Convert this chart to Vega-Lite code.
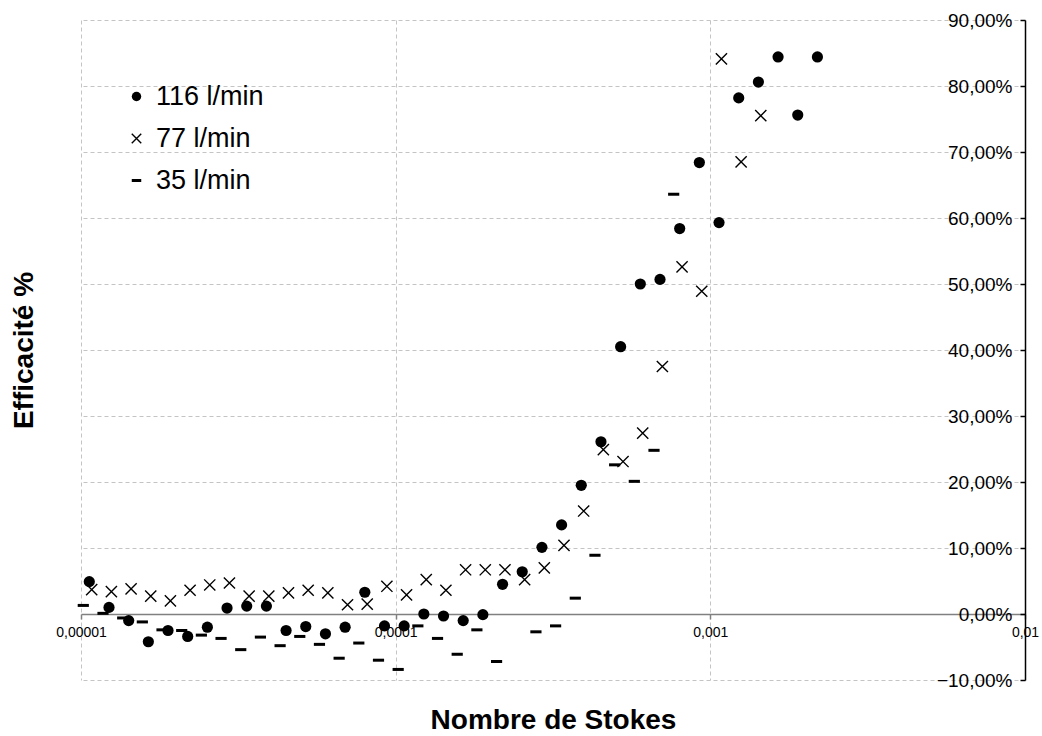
{
  "$schema": "https://vega.github.io/schema/vega-lite/v6.json",
  "width": 944,
  "height": 660,
  "autosize": {"type": "none"},
  "padding": {"left": 81, "top": 20, "right": 17, "bottom": 56},
  "background": "white",
  "config": {"view": {"stroke": null}, "font": "Liberation Sans"},
  "data": {"values": [
    {"series": "116 l/min", "stokes": 0.000010625, "eff": 4.9},
    {"series": "116 l/min", "stokes": 0.000012273, "eff": 1.0},
    {"series": "116 l/min", "stokes": 0.000014177, "eff": -1.0},
    {"series": "116 l/min", "stokes": 0.000016368, "eff": -4.2},
    {"series": "116 l/min", "stokes": 0.000018902, "eff": -2.5},
    {"series": "116 l/min", "stokes": 0.00002183, "eff": -3.4},
    {"series": "116 l/min", "stokes": 0.000025211, "eff": -2.0},
    {"series": "116 l/min", "stokes": 0.000029115, "eff": 0.9},
    {"series": "116 l/min", "stokes": 0.000033627, "eff": 1.2},
    {"series": "116 l/min", "stokes": 0.000038835, "eff": 1.2},
    {"series": "116 l/min", "stokes": 0.000044851, "eff": -2.5},
    {"series": "116 l/min", "stokes": 0.000051798, "eff": -1.9},
    {"series": "116 l/min", "stokes": 0.000059819, "eff": -3.0},
    {"series": "116 l/min", "stokes": 0.000069085, "eff": -2.0},
    {"series": "116 l/min", "stokes": 0.000079785, "eff": 3.3},
    {"series": "116 l/min", "stokes": 0.000092143, "eff": -1.8},
    {"series": "116 l/min", "stokes": 0.00010641, "eff": -1.8},
    {"series": "116 l/min", "stokes": 0.0001229, "eff": 0.0},
    {"series": "116 l/min", "stokes": 0.00014193, "eff": -0.3},
    {"series": "116 l/min", "stokes": 0.00016391, "eff": -1.0},
    {"series": "116 l/min", "stokes": 0.0001893, "eff": -0.1},
    {"series": "116 l/min", "stokes": 0.00021862, "eff": 4.5},
    {"series": "116 l/min", "stokes": 0.00025249, "eff": 6.4},
    {"series": "116 l/min", "stokes": 0.0002916, "eff": 10.1},
    {"series": "116 l/min", "stokes": 0.00033676, "eff": 13.5},
    {"series": "116 l/min", "stokes": 0.00038892, "eff": 19.5},
    {"series": "116 l/min", "stokes": 0.00044916, "eff": 26.1},
    {"series": "116 l/min", "stokes": 0.00051873, "eff": 40.5},
    {"series": "116 l/min", "stokes": 0.00059908, "eff": 50.0},
    {"series": "116 l/min", "stokes": 0.00069186, "eff": 50.7},
    {"series": "116 l/min", "stokes": 0.00079903, "eff": 58.4},
    {"series": "116 l/min", "stokes": 0.00092279, "eff": 68.4},
    {"series": "116 l/min", "stokes": 0.0010657, "eff": 59.3},
    {"series": "116 l/min", "stokes": 0.0012308, "eff": 78.2},
    {"series": "116 l/min", "stokes": 0.0014214, "eff": 80.6},
    {"series": "116 l/min", "stokes": 0.0016416, "eff": 84.4},
    {"series": "116 l/min", "stokes": 0.0018959, "eff": 75.6},
    {"series": "116 l/min", "stokes": 0.0021895, "eff": 84.4},
    {"series": "77 l/min", "stokes": 0.000010813, "eff": 3.7},
    {"series": "77 l/min", "stokes": 0.00001249, "eff": 3.4},
    {"series": "77 l/min", "stokes": 0.000014428, "eff": 3.8},
    {"series": "77 l/min", "stokes": 0.000016658, "eff": 2.7},
    {"series": "77 l/min", "stokes": 0.000019237, "eff": 2.0},
    {"series": "77 l/min", "stokes": 0.000022216, "eff": 3.6},
    {"series": "77 l/min", "stokes": 0.000025657, "eff": 4.4},
    {"series": "77 l/min", "stokes": 0.00002963, "eff": 4.7},
    {"series": "77 l/min", "stokes": 0.000034222, "eff": 2.7},
    {"series": "77 l/min", "stokes": 0.000039522, "eff": 2.7},
    {"series": "77 l/min", "stokes": 0.000045645, "eff": 3.2},
    {"series": "77 l/min", "stokes": 0.000052715, "eff": 3.6},
    {"series": "77 l/min", "stokes": 0.000060878, "eff": 3.2},
    {"series": "77 l/min", "stokes": 0.000070308, "eff": 1.4},
    {"series": "77 l/min", "stokes": 0.000081197, "eff": 1.5},
    {"series": "77 l/min", "stokes": 0.000093774, "eff": 4.2},
    {"series": "77 l/min", "stokes": 0.00010829, "eff": 2.9},
    {"series": "77 l/min", "stokes": 0.00012508, "eff": 5.2},
    {"series": "77 l/min", "stokes": 0.00014444, "eff": 3.6},
    {"series": "77 l/min", "stokes": 0.00016681, "eff": 6.7},
    {"series": "77 l/min", "stokes": 0.00019265, "eff": 6.7},
    {"series": "77 l/min", "stokes": 0.00022249, "eff": 6.7},
    {"series": "77 l/min", "stokes": 0.00025696, "eff": 5.2},
    {"series": "77 l/min", "stokes": 0.00029676, "eff": 7.0},
    {"series": "77 l/min", "stokes": 0.00034272, "eff": 10.4},
    {"series": "77 l/min", "stokes": 0.0003958, "eff": 15.6},
    {"series": "77 l/min", "stokes": 0.00045711, "eff": 24.9},
    {"series": "77 l/min", "stokes": 0.00052791, "eff": 23.1},
    {"series": "77 l/min", "stokes": 0.00060969, "eff": 27.4},
    {"series": "77 l/min", "stokes": 0.00070411, "eff": 37.5},
    {"series": "77 l/min", "stokes": 0.00081317, "eff": 52.6},
    {"series": "77 l/min", "stokes": 0.00093912, "eff": 48.9},
    {"series": "77 l/min", "stokes": 0.0010846, "eff": 84.1},
    {"series": "77 l/min", "stokes": 0.0012526, "eff": 68.5},
    {"series": "77 l/min", "stokes": 0.0014465, "eff": 75.5},
    {"series": "35 l/min", "stokes": 0.000010169, "eff": 1.3},
    {"series": "35 l/min", "stokes": 0.000011747, "eff": 0.1},
    {"series": "35 l/min", "stokes": 0.000013569, "eff": -0.6},
    {"series": "35 l/min", "stokes": 0.000015666, "eff": -1.2},
    {"series": "35 l/min", "stokes": 0.000018091, "eff": -2.4},
    {"series": "35 l/min", "stokes": 0.000020894, "eff": -2.5},
    {"series": "35 l/min", "stokes": 0.00002413, "eff": -3.2},
    {"series": "35 l/min", "stokes": 0.000027866, "eff": -3.7},
    {"series": "35 l/min", "stokes": 0.000032185, "eff": -5.4},
    {"series": "35 l/min", "stokes": 0.000037169, "eff": -3.5},
    {"series": "35 l/min", "stokes": 0.000042927, "eff": -4.8},
    {"series": "35 l/min", "stokes": 0.000049576, "eff": -3.4},
    {"series": "35 l/min", "stokes": 0.000057253, "eff": -4.6},
    {"series": "35 l/min", "stokes": 0.000066121, "eff": -6.7},
    {"series": "35 l/min", "stokes": 0.000076362, "eff": -4.4},
    {"series": "35 l/min", "stokes": 0.00008819, "eff": -7.0},
    {"series": "35 l/min", "stokes": 0.00010185, "eff": -8.4},
    {"series": "35 l/min", "stokes": 0.00011763, "eff": -1.8},
    {"series": "35 l/min", "stokes": 0.00013584, "eff": -3.7},
    {"series": "35 l/min", "stokes": 0.00015688, "eff": -6.1},
    {"series": "35 l/min", "stokes": 0.00018118, "eff": -2.4},
    {"series": "35 l/min", "stokes": 0.00020924, "eff": -7.2},
    {"series": "35 l/min", "stokes": 0.00027909, "eff": -2.7},
    {"series": "35 l/min", "stokes": 0.00032231, "eff": -1.8},
    {"series": "35 l/min", "stokes": 0.00037224, "eff": 2.4},
    {"series": "35 l/min", "stokes": 0.00042989, "eff": 8.9},
    {"series": "35 l/min", "stokes": 0.00049648, "eff": 22.6},
    {"series": "35 l/min", "stokes": 0.00057337, "eff": 20.1},
    {"series": "35 l/min", "stokes": 0.00066218, "eff": 24.8},
    {"series": "35 l/min", "stokes": 0.00076475, "eff": 63.6}
  ]},
  "mark": {"type": "point", "stroke": "black", "opacity": 1, "size": 125},
  "encoding": {
    "x": {
      "field": "stokes", "type": "quantitative",
      "scale": {"type": "log", "domain": [0.00001, 0.01], "nice": false},
      "axis": {
        "title": "Nombre de Stokes",
        "values": [0.00001, 0.0001, 0.001, 0.01],
        "labelExpr": "replace(datum.value + '', '.', ',')",
        "labelFlush": false, "labelOverlap": false,
        "offset": -66,
        "grid": true, "gridDash": [4, 3], "gridColor": "#c4c4c4", "gridWidth": 1,
        "domainColor": "#808080", "domainWidth": 1.5,
        "tickColor": "#808080", "tickSize": 5, "tickWidth": 1.5,
        "labelFontSize": 14, "labelColor": "black", "labelPadding": 6,
        "titleFontSize": 28, "titleFontWeight": "bold", "titleColor": "black",
        "titleY": 106, "titleBaseline": "middle"
      }
    },
    "y": {
      "field": "eff", "type": "quantitative",
      "scale": {"domain": [-10, 90], "nice": false, "zero": false},
      "axis": {
        "orient": "right",
        "title": "Efficacité %",
        "values": [-10, 0, 10, 20, 30, 40, 50, 60, 70, 80, 90],
        "labelExpr": "replace(format(datum.value, '.2f'), '.', ',') + '%'",
        "labelFlush": false, "labelOverlap": false,
        "grid": true, "gridDash": [4, 3], "gridColor": "#c4c4c4", "gridWidth": 1,
        "domainColor": "black", "domainWidth": 1.5,
        "tickColor": "black", "tickSize": -5, "tickWidth": 1.5,
        "labelAlign": "right", "labelPadding": -8,
        "labelFontSize": 19, "labelColor": "black",
        "titleFontSize": 28, "titleFontWeight": "bold", "titleColor": "black",
        "titleAngle": -90, "titleX": -1001, "titleY": 330, "titleBaseline": "middle", "titleAlign": "center"
      }
    },
    "shape": {
      "field": "series", "type": "nominal",
      "scale": {"domain": ["116 l/min", "77 l/min", "35 l/min"], "range": ["circle", "M-1,-1L1,1M-1,1L1,-1", "M-1,0L1,0"]},
      "legend": {
        "title": null, "orient": "none", "legendX": 42, "legendY": 63,
        "labelFontSize": 27, "labelColor": "black", "labelOffset": 6,
        "rowPadding": 14, "symbolSize": 90, "padding": 0,
        "encode": {
          "symbols": {
            "update": {
              "stroke": {"value": "black"},
              "strokeWidth": {"signal": "datum.value === '35 l/min' ? 3 : (datum.value === '77 l/min' ? 1.3 : 0)"},
              "opacity": {"value": 1}
            }
          }
        }
      }
    },
    "fill": {
      "field": "series", "type": "nominal",
      "scale": {"domain": ["116 l/min", "77 l/min", "35 l/min"], "range": ["black", "transparent", "transparent"]}
    },
    "strokeWidth": {
      "field": "series", "type": "nominal",
      "scale": {"type": "ordinal", "domain": ["116 l/min", "77 l/min", "35 l/min"], "range": [0, 1.4, 3]}
    }
  }
}
